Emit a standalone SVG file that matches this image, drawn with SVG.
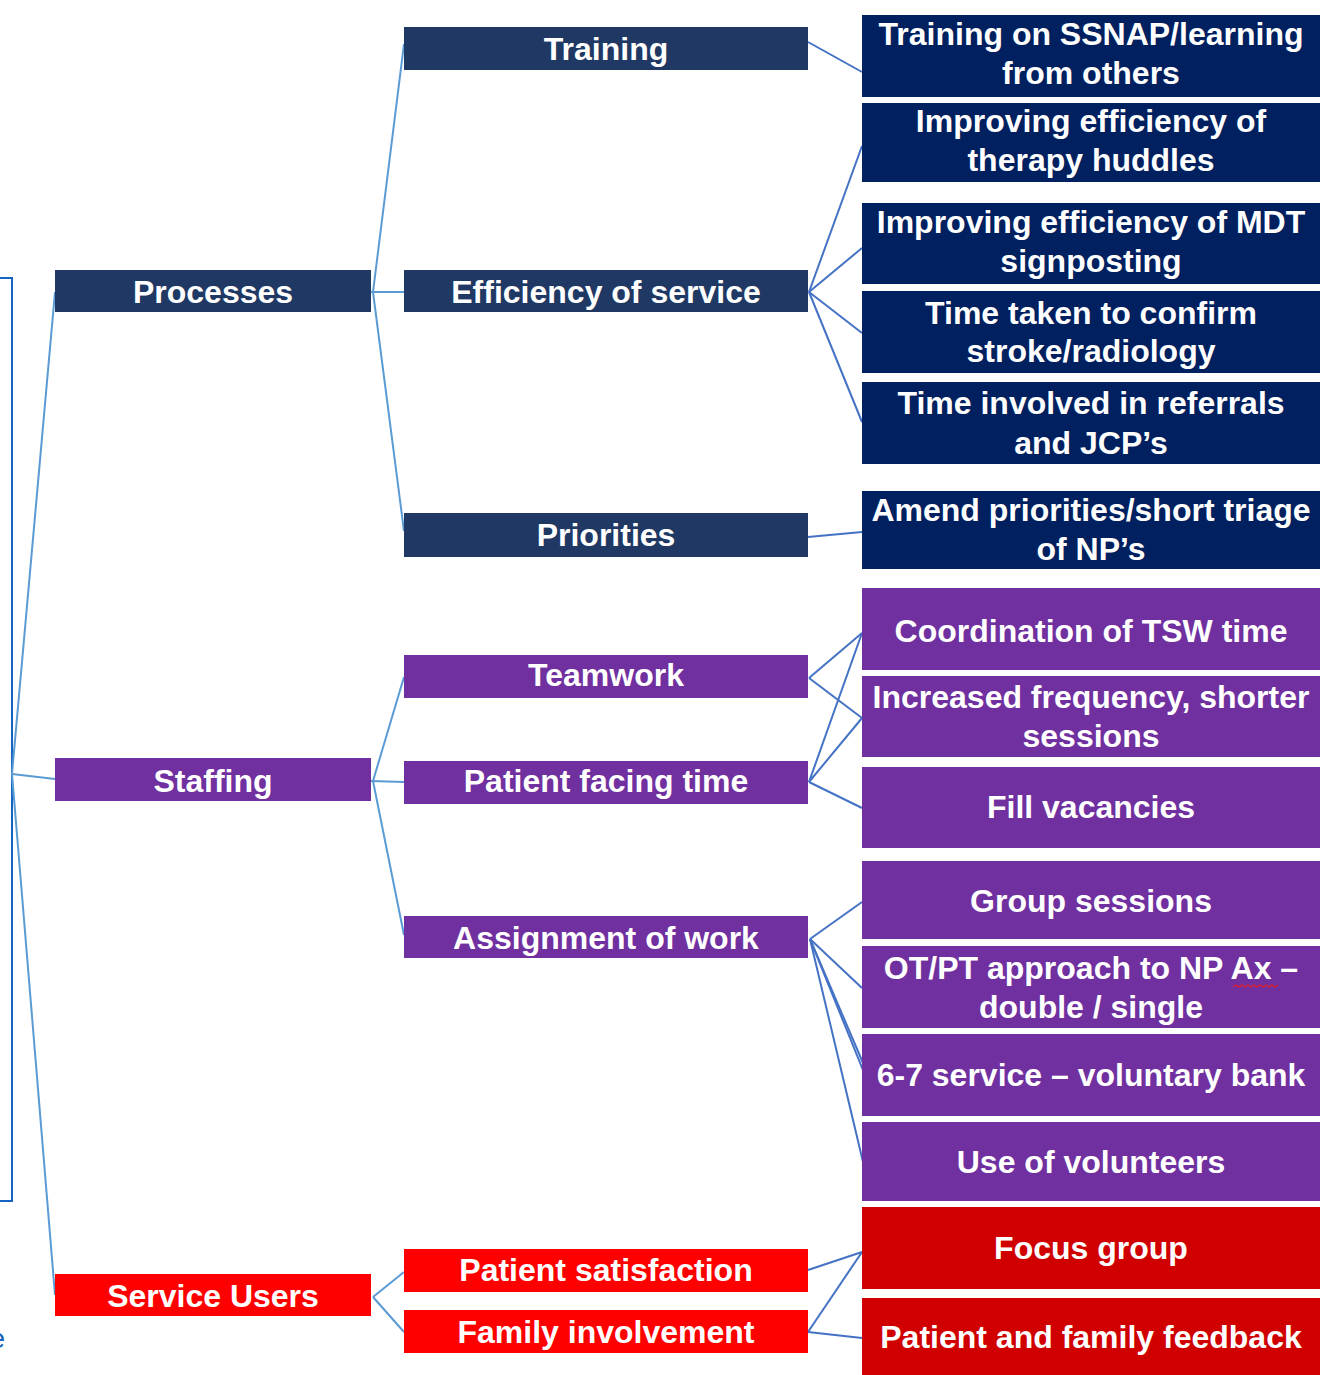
<svg xmlns="http://www.w3.org/2000/svg" width="1320" height="1375" viewBox="0 0 1320 1375">
<style>
  .t { font-family: "Liberation Sans", Arial, sans-serif; font-weight: bold; font-size: 32px; fill: #ffffff; text-anchor: middle; }
  .n1 { fill: #203864; }
  .n3 { fill: #002060; }
  .p { fill: #7030A0; }
  .r { fill: #FF0000; }
  .r3 { fill: #D00000; }
  .cl { stroke: #5B9BD5; stroke-width: 2; fill: none; }
  .cr { stroke: #4472C4; stroke-width: 2; fill: none; }
</style>
<rect width="1320" height="1375" fill="#ffffff"/>
<rect x="-20" y="278" width="32" height="923" fill="none" stroke="#1565C0" stroke-width="2"/>
<text x="5" y="1348" font-family="Liberation Sans, Arial, sans-serif" font-size="28" fill="#1565C0" text-anchor="end">e</text>

<g id="connectors">
  <line class="cl" x1="12" y1="774" x2="55" y2="292"/>
  <line class="cl" x1="12" y1="774" x2="55" y2="779"/>
  <line class="cl" x1="12" y1="774" x2="55" y2="1295"/>
  <line class="cl" x1="373" y1="292" x2="404" y2="44"/>
  <line class="cl" x1="371" y1="292" x2="404" y2="292"/>
  <line class="cl" x1="373" y1="292" x2="404" y2="531"/>
  <line class="cl" x1="373" y1="781" x2="404" y2="677"/>
  <line class="cl" x1="371" y1="781" x2="404" y2="782"/>
  <line class="cl" x1="373" y1="781" x2="404" y2="935"/>
  <line class="cl" x1="373" y1="1297" x2="404" y2="1272"/>
  <line class="cl" x1="373" y1="1297" x2="404" y2="1332"/>
  <line class="cr" x1="808" y1="42" x2="862" y2="72"/>
  <line class="cr" x1="809" y1="292" x2="862" y2="146"/>
  <line class="cr" x1="809" y1="292" x2="862" y2="248"/>
  <line class="cr" x1="809" y1="292" x2="862" y2="333"/>
  <line class="cr" x1="809" y1="292" x2="862" y2="422"/>
  <line class="cr" x1="808" y1="537" x2="862" y2="532"/>
  <line class="cr" x1="809" y1="678" x2="862" y2="633"/>
  <line class="cr" x1="809" y1="678" x2="862" y2="718"/>
  <line class="cr" x1="809" y1="782" x2="862" y2="633"/>
  <line class="cr" x1="809" y1="782" x2="862" y2="718"/>
  <line class="cr" x1="809" y1="782" x2="862" y2="808"/>
  <line class="cr" x1="810" y1="939" x2="862" y2="902"/>
  <line class="cr" x1="810" y1="939" x2="862" y2="988"/>
  <line class="cr" x1="810" y1="939" x2="863" y2="1063"/>
  <line class="cr" x1="810" y1="939" x2="869" y2="1085"/>
  <line class="cr" x1="810" y1="939" x2="863" y2="1162"/>
  <line class="cr" x1="808" y1="1270" x2="862" y2="1252"/>
  <line class="cr" x1="808" y1="1332" x2="862" y2="1252"/>
  <line class="cr" x1="808" y1="1332" x2="862" y2="1338"/>
</g>

<g id="processes"><rect class="n1" x="55" y="270" width="316" height="42"/><text class="t" x="213" y="303">Processes</text></g>
<g id="staffing"><rect class="p" x="55" y="758" width="316" height="43"/><text class="t" x="213" y="792">Staffing</text></g>
<g id="service-users"><rect class="r" x="55" y="1274" width="316" height="42"/><text class="t" x="213" y="1307">Service Users</text></g>

<g id="training"><rect class="n1" x="404" y="27" width="404" height="43"/><text class="t" x="606" y="60">Training</text></g>
<g id="efficiency"><rect class="n1" x="404" y="270" width="404" height="42"/><text class="t" x="606" y="303">Efficiency of service</text></g>
<g id="priorities"><rect class="n1" x="404" y="513" width="404" height="44"/><text class="t" x="606" y="546">Priorities</text></g>
<g id="teamwork"><rect class="p" x="404" y="655" width="404" height="43"/><text class="t" x="606" y="686">Teamwork</text></g>
<g id="patient-facing"><rect class="p" x="404" y="761" width="404" height="43"/><text class="t" x="606" y="792">Patient facing time</text></g>
<g id="assignment"><rect class="p" x="404" y="916" width="404" height="42"/><text class="t" x="606" y="949">Assignment of work</text></g>
<g id="patient-satisfaction"><rect class="r" x="404" y="1249" width="404" height="43"/><text class="t" x="606" y="1281">Patient satisfaction</text></g>
<g id="family-involvement"><rect class="r" x="404" y="1310" width="404" height="43"/><text class="t" x="606" y="1343">Family involvement</text></g>

<g id="ssnap"><rect class="n3" x="862" y="15" width="458" height="82"/><text class="t" x="1091" y="45">Training on SSNAP/learning</text><text class="t" x="1091" y="84">from others</text></g>
<g id="huddles"><rect class="n3" x="862" y="103" width="458" height="79"/><text class="t" x="1091" y="132">Improving efficiency of</text><text class="t" x="1091" y="171">therapy huddles</text></g>
<g id="mdt"><rect class="n3" x="862" y="203" width="458" height="81"/><text class="t" x="1091" y="233">Improving efficiency of MDT</text><text class="t" x="1091" y="272">signposting</text></g>
<g id="time-taken"><rect class="n3" x="862" y="291" width="458" height="82"/><text class="t" x="1091" y="324">Time taken to confirm</text><text class="t" x="1091" y="362">stroke/radiology</text></g>
<g id="time-involved"><rect class="n3" x="862" y="382" width="458" height="82"/><text class="t" x="1091" y="414">Time involved in referrals</text><text class="t" x="1091" y="454">and JCP’s</text></g>
<g id="amend"><rect class="n3" x="862" y="491" width="458" height="78"/><text class="t" x="1091" y="521">Amend priorities/short triage</text><text class="t" x="1091" y="560">of NP’s</text></g>
<g id="coordination"><rect class="p" x="862" y="588" width="458" height="82"/><text class="t" x="1091" y="642">Coordination of TSW time</text></g>
<g id="increased"><rect class="p" x="862" y="676" width="458" height="81"/><text class="t" x="1091" y="708">Increased frequency, shorter</text><text class="t" x="1091" y="747">sessions</text></g>
<g id="fill-vacancies"><rect class="p" x="862" y="767" width="458" height="81"/><text class="t" x="1091" y="818">Fill vacancies</text></g>
<g id="group-sessions"><rect class="p" x="862" y="861" width="458" height="78"/><text class="t" x="1091" y="912">Group sessions</text></g>
<g id="otpt"><rect class="p" x="862" y="946" width="458" height="82"/><text class="t" x="1091" y="979">OT/PT approach to NP Ax –</text><text class="t" x="1091" y="1018">double / single</text><path d="M1233 987 l3 -2 l3 2 l3 -2 l3 2 l3 -2 l3 2 l3 -2 l3 2 l3 -2 l3 2 l3 -2 l3 2 l3 -2 l3 2 l3 -2" fill="none" stroke="#D0203A" stroke-width="1.5"/></g>
<g id="six-seven"><rect class="p" x="862" y="1034" width="458" height="82"/><text class="t" x="1091" y="1086">6-7 service – voluntary bank</text></g>
<g id="volunteers"><rect class="p" x="862" y="1122" width="458" height="79"/><text class="t" x="1091" y="1173">Use of volunteers</text></g>
<g id="focus-group"><rect class="r3" x="862" y="1207" width="458" height="82"/><text class="t" x="1091" y="1259">Focus group</text></g>
<g id="feedback"><rect class="r3" x="862" y="1298" width="458" height="77"/><text class="t" x="1091" y="1348">Patient and family feedback</text></g>
</svg>
